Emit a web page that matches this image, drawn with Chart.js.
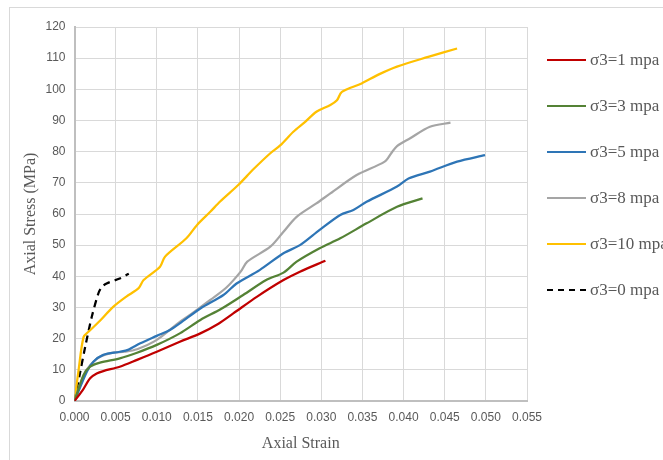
<!DOCTYPE html>
<html>
<head>
<meta charset="utf-8">
<script src="https://cdn.jsdelivr.net/npm/chart.js@4.4.1/dist/chart.umd.min.js"></script>
<style>
  html, body { margin: 0; padding: 0; background: #fff; overflow: hidden; }
  #wrap { position: relative; width: 663px; height: 460px; overflow: hidden; }
  #frame { position: absolute; left: 9px; top: 7px; width: 700px; height: 500px;
           border-left: 1px solid #d9d9d9; border-top: 1px solid #d9d9d9; }
  canvas { position: absolute; left: 0; top: 0; }
  #legend { position: absolute; left: 547px; top: 0; font-family: "Liberation Serif", "Times New Roman", serif;
            font-size: 17px; color: #595959; white-space: nowrap; }
  .item { position: absolute; left: 0; height: 20px; display: flex; align-items: center; }
  .swatch { width: 39px; height: 0; border-top: 2.5px solid; margin-right: 4px; }
</style>
</head>
<body>
<div id="wrap">
  <div id="frame"></div>
  <canvas id="c" width="663" height="460"></canvas>
  <div id="legend"></div>
</div>
<script>
// ---- data ----
const xTicks = [0, 0.005, 0.01, 0.015, 0.02, 0.025, 0.03, 0.035, 0.04, 0.045, 0.05, 0.055];
const yTicks = [0, 10, 20, 30, 40, 50, 60, 70, 80, 90, 100, 110, 120];

const seriesNames = ["σ3=1 mpa", "σ3=3 mpa", "σ3=5 mpa", "σ3=8 mpa", "σ3=10 mpa", "σ3=0 mpa"];

const strain1 = [0, 0.001, 0.0019, 0.0027, 0.0035, 0.0055, 0.0076, 0.01, 0.0128, 0.0153, 0.0175, 0.0193, 0.0222, 0.0254, 0.0274, 0.0305];
const stress1 = [0, 3.5, 7.3, 8.8, 9.6, 11, 13.2, 15.8, 19, 21.7, 24.8, 28.1, 33.5, 38.8, 41.5, 45];

const strain3 = [0, 0.0011, 0.0019, 0.0031, 0.0055, 0.0076, 0.01, 0.0128, 0.0153, 0.0178, 0.0205, 0.0233, 0.0254, 0.027, 0.0298, 0.0323, 0.0355, 0.0392, 0.0423];
const stress3 = [0, 8.3, 11, 12.3, 13.7, 15.5, 18, 21.7, 26, 29.5, 34, 38.8, 41.2, 44.7, 49, 52.2, 57, 62.3, 65];

const strain5 = [0, 0.0015, 0.0023, 0.0035, 0.0055, 0.0065, 0.008, 0.01, 0.0116, 0.0128, 0.0153, 0.0181, 0.0197, 0.0225, 0.0254, 0.0274, 0.0298, 0.0323, 0.0339, 0.0355, 0.0392, 0.0406, 0.0432, 0.0465, 0.0499];
const stress5 = [0, 9.4, 12.6, 14.8, 15.8, 16.4, 18.5, 20.9, 22.8, 24.9, 29.7, 34, 37.7, 42, 47.4, 50, 54.9, 59.7, 61.3, 63.9, 68.8, 71.4, 73.6, 76.8, 78.9];

const strain8 = [0, 0.0011, 0.0019, 0.0031, 0.0047, 0.0061, 0.0076, 0.01, 0.0128, 0.0145, 0.0165, 0.0185, 0.0202, 0.021, 0.0238, 0.0254, 0.027, 0.0294, 0.0311, 0.0343, 0.0377, 0.0385, 0.0392, 0.0408, 0.0432, 0.0457];
const stress8 = [0, 8.3, 11.5, 14.2, 15.5, 15.8, 16.6, 19.6, 25.4, 28.5, 32.4, 36.5, 41.5, 44.7, 49.5, 54.3, 59.1, 63.4, 66.6, 72.5, 76.8, 79.5, 81.8, 84.3, 88, 89.3];

const strain10 = [0, 0.0005, 0.0011, 0.0017, 0.003, 0.0047, 0.0063, 0.0078, 0.0084, 0.0104, 0.011, 0.0136, 0.0149, 0.0165, 0.0177, 0.0199, 0.0218, 0.0238, 0.025, 0.0266, 0.028, 0.0294, 0.0311, 0.0319, 0.0325, 0.0349, 0.037, 0.0392, 0.043, 0.0465];
const stress10 = [0, 10, 20.5, 22.2, 25.5, 30.2, 33.5, 36.2, 38.8, 43.1, 46.3, 52.2, 56.5, 60.7, 64, 69.3, 74.5, 79.5, 82, 86.4, 89.5, 92.8, 95, 96.5, 99.2, 101.9, 104.8, 107.3, 110.4, 113.1];

const strain0 = [0, 0.0007, 0.0013, 0.0021, 0.0029, 0.0033, 0.0039, 0.0055, 0.0066];
const stress0 = [0, 9.4, 17.4, 27, 34.5, 36.5, 37.7, 39.3, 40.8];

// ---- build ----
const colors = ["#c00000", "#548235", "#2e75b6", "#a5a5a5", "#ffc000", "#000000"];
const xs = [strain1, strain3, strain5, strain8, strain10, strain0];
const ys = [stress1, stress3, stress5, stress8, stress10, stress0];

const datasets = xs.map((sx, i) => ({
  label: seriesNames[i],
  data: sx.map((v, k) => ({ x: v, y: ys[i][k] })),
  borderColor: colors[i],
  backgroundColor: colors[i],
  borderWidth: 2.25,
  borderDash: i === 5 ? [7, 5] : [],
  pointRadius: 0,
  tension: 0.3,
  fill: false
}));
const tickFont = { family: "'Liberation Sans', Arial, sans-serif", size: 12 };
const titleFont = { family: "'Liberation Serif', 'Times New Roman', serif", size: 16 };

new Chart(document.getElementById('c'), {
  type: 'line',
  data: { datasets },
  options: {
    responsive: false,
    animation: false,
    layout: { padding: { left: 21, right: 136, top: 27, bottom: 7 } },
    plugins: { legend: { display: false }, tooltip: { enabled: false } },
    scales: {
      x: {
        type: 'linear', min: 0, max: 0.055,
        afterBuildTicks: s => { s.ticks = xTicks.map(v => ({ value: v })); },
        afterFit: s => { s.height = 52; },
        ticks: { color: '#595959', font: tickFont, padding: 9, maxRotation: 0,
                 callback: v => Number(v).toFixed(3) },
        grid: { color: '#d9d9d9', lineWidth: 1, drawTicks: false },
        border: { color: '#bfbfbf', width: 2 },
        title: { display: true, text: 'Axial Strain', color: '#595959', font: titleFont, padding: { top: 4, bottom: 0 } }
      },
      y: {
        type: 'linear', min: 0, max: 120,
        afterBuildTicks: s => { s.ticks = yTicks.map(v => ({ value: v })); },
        afterFit: s => { s.width = 53.5; },
        ticks: { color: '#595959', font: tickFont, padding: 9 },
        grid: { color: '#d9d9d9', lineWidth: 1, drawTicks: false },
        border: { color: '#bfbfbf', width: 2 },
        title: { display: true, text: 'Axial Stress (MPa)', color: '#595959', font: titleFont, padding: { top: 0, bottom: 4 } }
      }
    }
  }
});

// ---- legend (HTML, real text) ----
const legend = document.getElementById('legend');
const legendY = [60, 106, 152, 198, 243.5, 289.5];
seriesNames.forEach((name, i) => {
  const it = document.createElement('div');
  it.className = 'item';
  it.style.top = (legendY[i] - 10) + 'px';
  const sw = document.createElement('div');
  sw.className = 'swatch';
  sw.style.borderTopColor = colors[i];
  if (i === 5) { sw.style.borderTopStyle = 'dashed'; }
  const tx = document.createElement('span');
  tx.textContent = name;
  it.appendChild(sw); it.appendChild(tx);
  legend.appendChild(it);
});
</script>
</body>
</html>
